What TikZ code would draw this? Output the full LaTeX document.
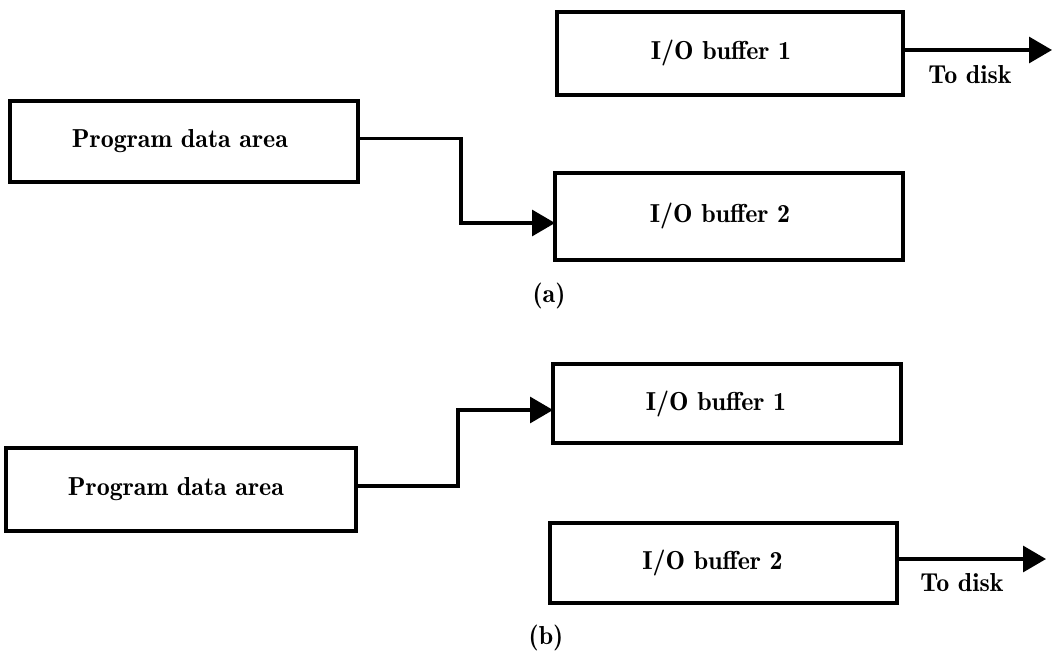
\documentclass[tikz,border=0pt]{standalone}
\usetikzlibrary{arrows.meta}
\begin{document}
\begin{tikzpicture}[x=1pt,y=-1pt,
  every node/.style={font=\fontsize{26}{30}\fontseries{b}\selectfont},
  area/.style={draw, line width=3.8pt, inner sep=0pt, outer sep=0pt},
  conn/.style={line width=3.2pt, -{Triangle[length=23pt,width=26pt]}}]
\useasboundingbox (0,0) rectangle (1054,652);

% (a) writing from the program area into buffer 2 while buffer 1 goes to disk
\node[area, minimum width=348pt, minimum height=81pt] (pa) at (184,141.5) {Program data area\hspace*{8pt}};
\node[area, minimum width=346pt, minimum height=83pt] (b1a) at (730,53.5) {I/O buffer 1\hspace*{18pt}};
\node[area, minimum width=348pt, minimum height=87pt] (b2a) at (729,216.5) {I/O buffer 2\hspace*{18pt}};
\coordinate (da) at (1052,50);
\draw[conn] ([yshift=3pt]pa.east) -- ++(103,0) |- ([yshift=-6.5pt]b2a.west);
\draw[conn] ([yshift=3.5pt]b1a.east) -- (da);
\node (ta) at (970,75) {To disk};
\node (la) at (549,296) {(a)};

% (b) the roles of the two buffers exchanged
\node[area, minimum width=350pt, minimum height=83pt] (pb) at (181,489.5) {Program data area\hspace*{10pt}};
\node[area, minimum width=348pt, minimum height=79pt] (b1b) at (727,403.5) {I/O buffer 1\hspace*{22pt}};
\node[area, minimum width=347pt, minimum height=80pt] (b2b) at (723.5,563) {I/O buffer 2\hspace*{22pt}};
\coordinate (db) at (1046,559);
\draw[conn] ([yshift=3.5pt]pb.east) -- ++(102,0) |- ([yshift=-6.5pt]b1b.west);
\draw[conn] ([yshift=4pt]b2b.east) -- (db);
\node (tb) at (962,583) {To disk};
\node (lb) at (546,638) {(b)};
\end{tikzpicture}
\end{document}
